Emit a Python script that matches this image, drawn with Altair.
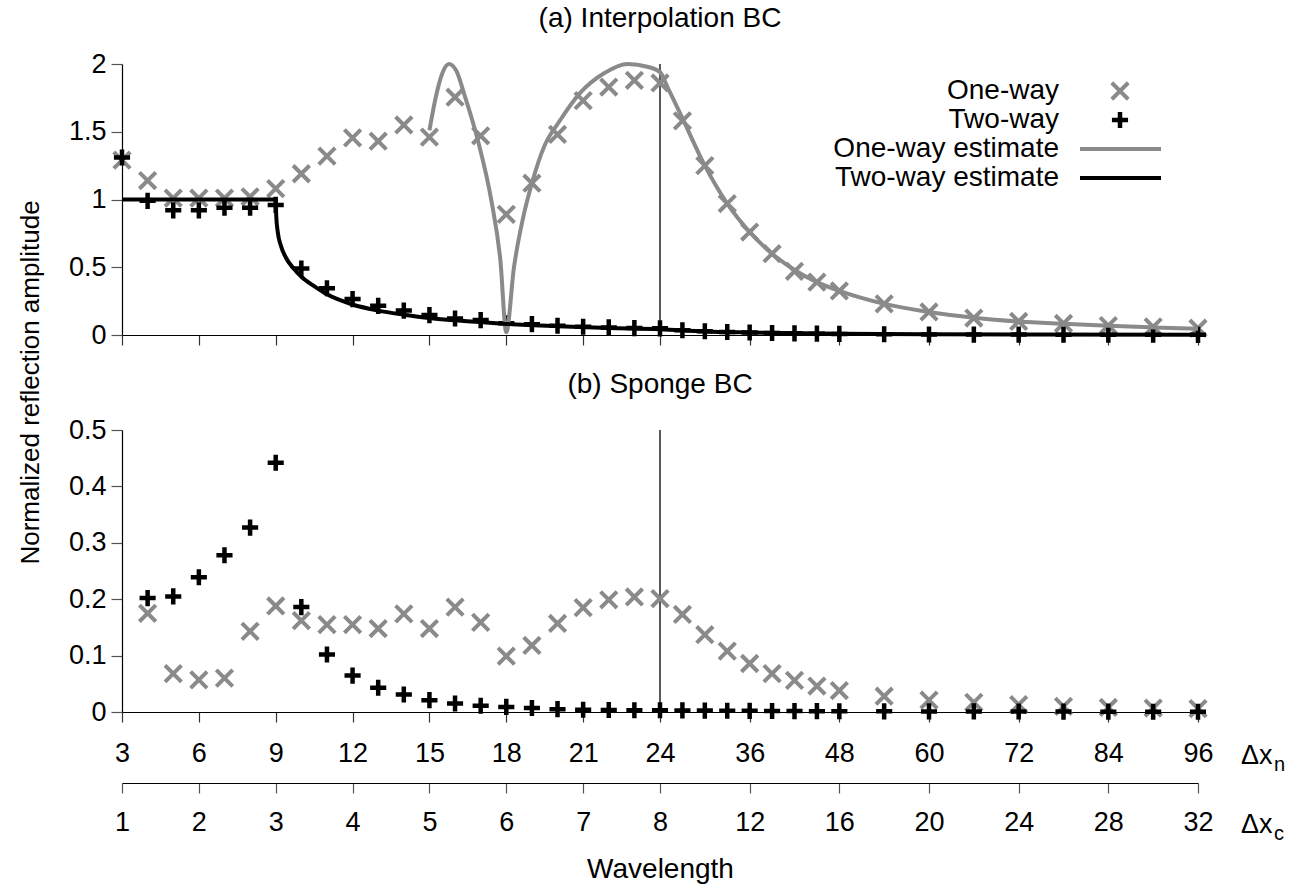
import altair as alt
import pandas as pd

# ---------------------------------------------------------------------------
# Wavelengths in fine-grid spacings (dx_n); the coarse grid has dx_c = dx_n / 3
# ---------------------------------------------------------------------------
wavelength = [3, 4, 5, 6, 7, 8, 9, 10, 11, 12, 13, 14, 15, 16, 17, 18, 19, 20,
              21, 22, 23, 24, 27, 30, 33, 36, 39, 42, 45, 48,
              54, 60, 66, 72, 78, 84, 90, 96]

# (a) Interpolation BC - measured reflection amplitudes
interp_one_way = [1.29, 1.14, 1.01, 1.01, 1.01, 1.02, 1.08, 1.19, 1.32, 1.455,
                  1.43, 1.55, 1.46, 1.755, 1.47, 0.89, 1.12, 1.48, 1.73, 1.83,
                  1.88, 1.86, 1.58, 1.25, 0.97, 0.76, 0.60, 0.47, 0.39, 0.325,
                  0.23, 0.17, 0.125, 0.10, 0.085, 0.07, 0.06, 0.05]
interp_two_way = [1.31, 0.99, 0.92, 0.92, 0.94, 0.94, 0.96, 0.49, 0.345, 0.265,
                  0.215, 0.18, 0.147, 0.122, 0.11, 0.086, 0.08, 0.068, 0.061,
                  0.056, 0.051, 0.049, 0.035, 0.028, 0.022, 0.018, 0.015,
                  0.012, 0.010, 0.008, 0.006, 0.004, 0.003, 0.003, 0.002,
                  0.002, 0.002, 0.001]

# (a) analytic estimates
one_est_wl = [15.0, 15.23, 15.5, 15.76, 16.05, 16.37, 16.9, 17.42, 17.77, 18.0,
              18.3, 18.65, 19.0, 19.5, 20.05, 20.9, 21.8, 22.75, 23.5, 24.0,
              25.0, 27.0, 30.0, 33.0, 36.0, 39.0, 42.0, 45.0, 48.0, 54.0,
              60.0, 66.0, 72.0, 78.0, 84.0, 90.0, 96.0]
one_est_r = [1.51, 1.74, 1.93, 2.0, 1.95, 1.77, 1.43, 0.99, 0.55, 0.02,
             0.5, 0.86, 1.12, 1.40, 1.57, 1.79, 1.93, 2.0, 1.98, 1.94,
             1.83, 1.60, 1.25, 0.97, 0.76, 0.60, 0.48, 0.39, 0.325, 0.23,
             0.17, 0.128, 0.10, 0.083, 0.068, 0.056, 0.046]
two_est_wl = [3.0, 9.0, 9.02, 9.08, 9.2, 9.4, 9.7, 10.0, 10.5, 11.0, 12.0, 13.0,
              14.0, 15.0, 16.0, 18.0, 20.0, 22.0, 24.0, 30.0, 36.0, 48.0, 60.0,
              72.0, 96.0]
two_est_r = [1.0, 1.0, 0.88, 0.76, 0.66, 0.57, 0.49, 0.43, 0.36, 0.30, 0.225,
             0.18, 0.15, 0.125, 0.108, 0.082, 0.065, 0.052, 0.043, 0.026,
             0.018, 0.009, 0.005, 0.003, 0.001]

# (b) Sponge BC - measured reflection amplitudes (from dx_n = 4)
sponge_wl = wavelength[1:]
sponge_one_way = [0.175, 0.068, 0.057, 0.060, 0.143, 0.188, 0.162, 0.155, 0.155,
                  0.148, 0.174, 0.148, 0.186, 0.159, 0.099, 0.118, 0.157,
                  0.185, 0.199, 0.204, 0.201, 0.173, 0.137, 0.108, 0.086,
                  0.068, 0.056, 0.046, 0.038, 0.028, 0.021, 0.017, 0.013,
                  0.010, 0.008, 0.007, 0.006]
sponge_two_way = [0.202, 0.205, 0.239, 0.278, 0.327, 0.442, 0.186, 0.102,
                  0.0645, 0.043, 0.031, 0.021, 0.015, 0.011, 0.009, 0.007,
                  0.005, 0.004, 0.0035, 0.003, 0.003, 0.0028, 0.0025, 0.0022,
                  0.002, 0.0018, 0.0016, 0.0015, 0.0014, 0.0012, 0.001, 0.001,
                  0.0008, 0.0007, 0.0006, 0.0005, 0.0005]

# axis ticks
wl_ticks = [3, 6, 9, 12, 15, 18, 21, 24, 36, 48, 60, 72, 84, 96]
ticks_a = [0, 0.5, 1, 1.5, 2]
ticks_b = [0, 0.1, 0.2, 0.3, 0.4, 0.5]
ref_wl = [24]
legend_labels = ["One-way", "Two-way", "One-way estimate", "Two-way estimate"]

# ---------------------------------------------------------------------------
FONT = "Liberation Sans"
FS = 27        # tick labels
FS_TEXT = 28   # titles and key
W = 1076
HA = 271
HB = 282
GRAY = "#8a8a8a"
X_SHAPE = "M-1,-1L1,1M-1,1L1,-1"
PLUS_SHAPE = "M-1,0L1,0M0,-1L0,1"

# piecewise-linear wavelength axis: 3..24 fills the left half, 24..96 the right
XS = alt.Scale(domain=[3, 24, 96], range=[0, W / 2, W])
YA = alt.Scale(domain=[0, 2], nice=False, zero=False)
YB = alt.Scale(domain=[0, 0.5], nice=False, zero=False)

pts_a = pd.DataFrame({"wl": wavelength, "one": interp_one_way, "two": interp_two_way})
pts_b = pd.DataFrame({"wl": sponge_wl, "one": sponge_one_way, "two": sponge_two_way})
est_one = pd.DataFrame({"wl": one_est_wl, "r": one_est_r})
est_two = pd.DataFrame({"wl": two_est_wl, "r": two_est_r})
ref = pd.DataFrame({"wl": ref_wl})

# x axis of panel (a): ticks only
x_axis_a = alt.Axis(values=wl_ticks, labels=False, tickSize=10, title=None,
                    orient="bottom", domainColor="black", tickColor="#333333")


def y_axis(values, title=None, **kw):
    return alt.Axis(values=values, format=".1~f", tickSize=11, labelPadding=5,
                    domainColor="black", tickColor="#555555", title=title, **kw)


y_axis_a = y_axis(ticks_a, "Normalized reflection amplitude",
                  titleX=-92, titleY=318, titleAngle=270, titleFontSize=26,
                  titleAlign="center", titleBaseline="middle")
y_axis_b = y_axis(ticks_b)


def symbols(df, field, xaxis, yscale, yaxis, shape, color, size, width):
    return alt.Chart(df).mark_point(shape=shape, color=color, size=size,
                                    strokeWidth=width, opacity=1, filled=False).encode(
        x=alt.X("wl:Q", scale=XS, axis=xaxis),
        y=alt.Y(f"{field}:Q", scale=yscale, axis=yaxis))


def curve(df, color, xaxis, yscale, yaxis):
    return alt.Chart(df).mark_line(color=color, strokeWidth=4,
                                   interpolate="monotone").encode(
        x=alt.X("wl:Q", scale=XS, axis=xaxis),
        y=alt.Y("r:Q", scale=yscale, axis=yaxis))


# ---------------------- panel (a) ----------------------
rule_a = alt.Chart(ref).mark_rule(color="black", strokeWidth=1.3).encode(
    x=alt.X("wl:Q", scale=XS, axis=x_axis_a))
one_a = symbols(pts_a, "one", x_axis_a, YA, y_axis_a, X_SHAPE, GRAY, 270, 4)
two_a = symbols(pts_a, "two", x_axis_a, YA, y_axis_a, PLUS_SHAPE, "black", 260, 4.5)
line_one = curve(est_one, GRAY, x_axis_a, YA, y_axis_a)
line_two = curve(est_two, "black", x_axis_a, YA, y_axis_a)

# key, drawn in the upper right of panel (a)
LEG_TX, LEG_SYM, LEG_L0, LEG_L1 = 937, 998, 958, 1039
LEG_ROWS = [27, 56, 85, 114]
lab = pd.DataFrame({"t": legend_labels})
legend_layers = []
for i, row_y in enumerate(LEG_ROWS):
    legend_layers.append(
        alt.Chart(lab.iloc[[i]]).mark_text(align="right", baseline="middle",
                                            fontSize=FS_TEXT, font=FONT,
                                            color="black").encode(
            text="t:N", x=alt.value(LEG_TX), y=alt.value(row_y)))
legend_layers.append(
    alt.Chart(lab.iloc[[0]]).mark_point(shape=X_SHAPE, color=GRAY, size=270,
                                        strokeWidth=4, opacity=1).encode(
        x=alt.value(LEG_SYM), y=alt.value(LEG_ROWS[0])))
legend_layers.append(
    alt.Chart(lab.iloc[[1]]).mark_point(shape=PLUS_SHAPE, color="black", size=260,
                                        strokeWidth=4.5, opacity=1).encode(
        x=alt.value(LEG_SYM), y=alt.value(LEG_ROWS[1])))
legend_layers.append(
    alt.Chart(lab.iloc[[2]]).mark_rule(color=GRAY, strokeWidth=4).encode(
        x=alt.value(LEG_L0), x2=alt.value(LEG_L1), y=alt.value(LEG_ROWS[2])))
legend_layers.append(
    alt.Chart(lab.iloc[[3]]).mark_rule(color="black", strokeWidth=4).encode(
        x=alt.value(LEG_L0), x2=alt.value(LEG_L1), y=alt.value(LEG_ROWS[3])))

panel_a = alt.layer(rule_a, one_a, two_a, line_one, line_two, *legend_layers).properties(
    width=W, height=HA,
    title=alt.TitleParams("(a) Interpolation BC", fontSize=FS_TEXT, font=FONT,
                          fontWeight="normal", anchor="middle", offset=17,
                          color="black"))

# ---------------------- panel (b) ----------------------
# labelled in dx_n just below the panel, plus a second line offset below it
# labelled in dx_c
axis_fine = alt.Axis(values=wl_ticks, tickSize=10, labelPadding=18, title=None,
                     orient="bottom", labelFlush=False,
                     domainColor="black", tickColor="#333333")
axis_coarse = alt.Axis(values=wl_ticks, tickSize=10, labelPadding=16, offset=71,
                       orient="bottom", labelExpr="datum.value / 3",
                       labelFlush=False, title="Wavelength", titleY=86,
                       titleBaseline="middle", titleFontSize=FS_TEXT,
                       domainColor="black", tickColor="#555555")

rule_b = alt.Chart(ref).mark_rule(color="black", strokeWidth=1.3).encode(
    x=alt.X("wl:Q", scale=XS, axis=axis_coarse))
one_b = symbols(pts_b, "one", axis_fine, YB, y_axis_b, X_SHAPE, GRAY, 270, 4)
two_b = symbols(pts_b, "two", None, YB, y_axis_b, PLUS_SHAPE, "black", 260, 4.5)

unit = pd.DataFrame({"t": ["Δx", "n", "c"]})
sub_layers = []
for row_y, sub in [(326, 1), (395, 2)]:
    sub_layers.append(
        alt.Chart(unit.iloc[[0]]).mark_text(align="left", baseline="middle",
                                             fontSize=FS, font=FONT, color="black").encode(
            text="t:N", x=alt.value(1119), y=alt.value(row_y)))
    sub_layers.append(
        alt.Chart(unit.iloc[[sub]]).mark_text(align="left", baseline="middle",
                                               fontSize=20, font=FONT, color="black").encode(
            text="t:N", x=alt.value(1152), y=alt.value(row_y + 9)))

panel_b = alt.layer(rule_b, one_b, two_b, *sub_layers).properties(
    width=W, height=HB,
    title=alt.TitleParams("(b) Sponge BC", fontSize=FS_TEXT, font=FONT,
                          fontWeight="normal", anchor="middle", offset=17,
                          color="black")
).resolve_axis(x="independent")

chart = alt.vconcat(panel_a, panel_b, spacing=95, bounds="flush").properties(
    padding={"left": 17, "top": 5, "right": 5, "bottom": 5}
).configure(font=FONT).configure_view(stroke=None).configure_axis(
    labelFont=FONT, titleFont=FONT, labelFontSize=FS, titleFontSize=26,
    labelColor="black", titleColor="black", titleFontWeight="normal", grid=False,
    domainWidth=1.2, tickWidth=1.2)

chart.save("out.html", embed_options={"renderer": "svg", "actions": False})
